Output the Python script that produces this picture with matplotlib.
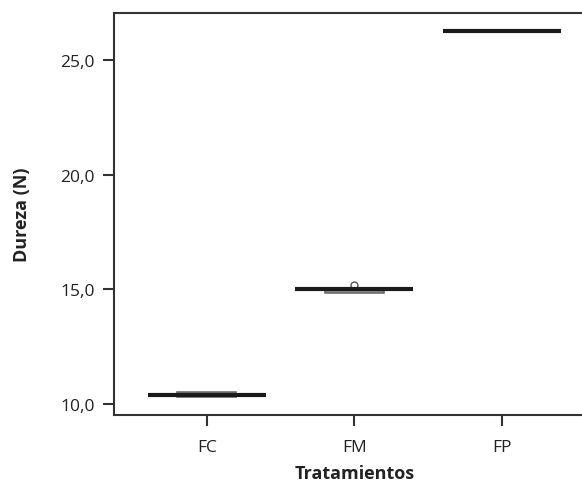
import matplotlib.pyplot as plt
from matplotlib.ticker import FuncFormatter

plt.rcParams['font.family'] = ['Open Sans', 'DejaVu Sans']

tratamientos = ['FC', 'FM', 'FP']
mediana = [10.40, 15.00, 26.27]
q1 = [10.29, 14.85, 26.25]
q3 = [10.53, 15.00, 26.29]
atipicos = [[], [15.20], []]
yticks = [10, 15, 20, 25]

fig = plt.figure(figsize=(5.82, 4.89), dpi=100)
ax = fig.add_axes([0.196, 0.149, 0.826, 0.822])

pos = list(range(len(tratamientos)))

# cajas (muy estrechas)
for i in pos:
    ax.bar(i, q3[i] - q1[i], bottom=q1[i], width=0.4, color='#8c8c8c',
           edgecolor='#6e6e6e', linewidth=1.2, zorder=2)
    for v in atipicos[i]:
        ax.vlines(i, mediana[i], v, color='#555555', lw=1, zorder=3)
        ax.plot(i, v, marker='o', ms=5, mfc='white', mec='#555555', mew=1, zorder=4)

# lineas de la mediana
ax.hlines(mediana, [p - 0.4 for p in pos], [p + 0.4 for p in pos],
          color='#1a1a1a', lw=3, zorder=5)

ax.set_xlim(-0.63, 2.63)
ax.set_ylim(9.52, 27.05)
ax.set_xticks(pos)
ax.set_xticklabels(tratamientos)
ax.set_yticks(yticks)
ax.yaxis.set_major_formatter(FuncFormatter(lambda v, p: f'{v:.1f}'.replace('.', ',')))

for s in ax.spines.values():
    s.set_color('#333333')
    s.set_linewidth(1.5)

ax.tick_params(axis='both', colors='#333333', width=1.5, length=8, labelsize=12.5,
               labelcolor='#222222')
ax.tick_params(axis='y', pad=6)
ax.tick_params(axis='x', pad=9)

ax.set_xlabel('Tratamientos', fontsize=13, fontweight='bold', color='#222222', labelpad=7)
ax.set_ylabel('Dureza (N)', fontsize=13, fontweight='bold', color='#222222', labelpad=21)

fig.savefig('out.png', dpi=100)
